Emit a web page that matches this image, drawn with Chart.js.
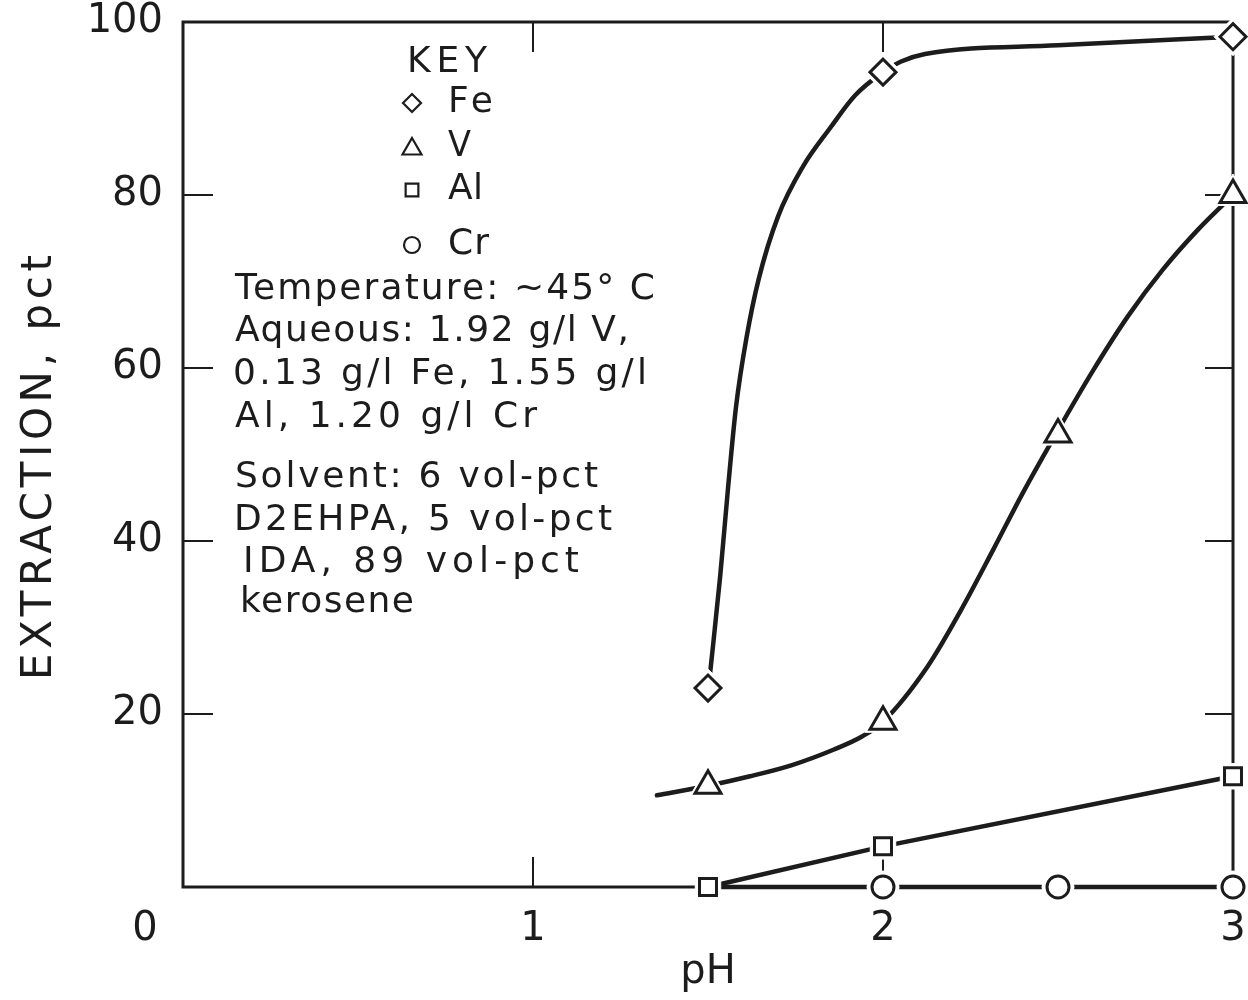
<!DOCTYPE html>
<html>
<head>
<meta charset="utf-8">
<script src="https://cdn.jsdelivr.net/npm/chart.js@4/dist/chart.umd.min.js"></script>
<style>
  html, body { margin: 0; padding: 0; background: #ffffff; }
  canvas { display: block; }
</style>
</head>
<body>
<canvas id="c" width="1248" height="1000"></canvas>
<script>
// ---- measured points (pH, extraction pct) ----
const phFe = [1.5, 2.0, 3.0];
const extFe = [23, 94.2, 98.3];
const phV = [1.5, 2.0, 2.5, 3.0];
const extV = [11.7, 19.1, 52.3, 80.0];
const phAl = [1.5, 2.0, 3.0];
const extAl = [0, 4.7, 12.8];
const phCr = [2.0, 2.5, 3.0];
const extCr = [0, 0, 0];

// ---- drawn curves ----
const phCurveFe = [1.506, 1.535, 1.557, 1.58, 1.61, 1.645, 1.70, 1.77, 1.85, 1.92, 2.0, 2.05, 2.12, 2.5, 3.0];
const extCurveFe = [24.7, 36.0, 46.0, 55.5, 63.5, 70.3, 77.5, 83.2, 87.8, 91.5, 94.2, 95.4, 96.3, 97.3, 98.3];
const phCurveV = [1.354, 1.5, 1.62, 1.74, 1.86, 1.94, 2.0, 2.126, 2.22, 2.315, 2.4, 2.5, 2.6, 2.7, 2.8, 2.9, 3.0];
const extCurveV = [10.6, 11.7, 12.8, 14.1, 15.9, 17.4, 19.1, 25.4, 31.8, 39.0, 45.6, 52.8, 59.7, 66.0, 71.4, 76.0, 80.0];
const phCurveAl = [1.5, 2.0, 3.0];
const extCurveAl = [0, 4.7, 12.8];
const phCurveCr = [1.5, 2.0, 2.5, 3.0];
const extCurveCr = [0, 0, 0, 0];

// ---- axes ----
const xTicks = [0, 1, 2, 3];
const yTicks = [0, 20, 40, 60, 80, 100];
const xTitle = 'pH';
const yTitle = 'EXTRACTION, pct';

// ---- key and notes ----
const keyTitle = 'KEY';
const keyNames = ['Fe', 'V', 'Al', 'Cr'];
const keyStyles = ['rectRot', 'triangle', 'rect', 'circle'];
const noteLines = [
  'Temperature: ~45° C',
  'Aqueous: 1.92 g/l V,',
  '0.13 g/l Fe, 1.55 g/l',
  'Al, 1.20 g/l Cr',
  'Solvent: 6 vol-pct',
  'D2EHPA, 5 vol-pct',
  'IDA, 89 vol-pct',
  'kerosene'
];

const FONT = "'DejaVu Sans', 'Liberation Sans', sans-serif";
const INK = '#1c1c1c';

const pts = (xs, ys) => xs.map((v, i) => ({ x: v, y: ys[i] }));

function markerSet(label, xs, ys, style, r) {
  return { label, data: pts(xs, ys), showLine: false, pointStyle: style, pointRadius: r,
    pointBackgroundColor: '#ffffff', pointBorderColor: INK, pointBorderWidth: 3, clip: false };
}
function haloSet(label, xs, ys, style, r) {
  return { label, data: pts(xs, ys), showLine: false, pointStyle: style, pointRadius: r,
    pointBackgroundColor: '#ffffff', pointBorderColor: '#ffffff', pointBorderWidth: 1, clip: false };
}
function curveSet(label, xs, ys, smooth) {
  return { label, data: pts(xs, ys), showLine: true, pointRadius: 0, borderColor: INK,
    borderWidth: 4.5, tension: 0, cubicInterpolationMode: smooth ? 'monotone' : 'default',
    borderCapStyle: 'round', clip: false };
}

// draw text stretched (via letter spacing) to a target width
function spacedText(ctx, text, x, y, width) {
  ctx.letterSpacing = '0px';
  const w = ctx.measureText(text).width;
  const n = Math.max(text.length - 1, 1);
  const s = (width - w) / n;
  if (s >= 0) {
    ctx.letterSpacing = s.toFixed(2) + 'px';
    ctx.fillText(text, x, y);
  } else {
    ctx.fillText(text, x, y, width);
  }
  ctx.letterSpacing = '0px';
}

const frame = {
  id: 'frame',
  beforeDatasetsDraw(chart) {
    const { ctx, chartArea: a, scales: { x, y } } = chart;
    ctx.save();
    ctx.strokeStyle = INK;
    ctx.lineWidth = 3;
    ctx.strokeRect(a.left, a.top, a.right - a.left, a.bottom - a.top);
    ctx.lineWidth = 2;
    ctx.beginPath();
    xTicks.forEach(v => {
      const px = x.getPixelForValue(v);
      if (px > a.left + 2 && px < a.right - 2) {
        ctx.moveTo(px, a.top); ctx.lineTo(px, a.top + 30);
        ctx.moveTo(px, a.bottom); ctx.lineTo(px, a.bottom - 30);
      }
    });
    yTicks.forEach(v => {
      const py = y.getPixelForValue(v);
      if (py > a.top + 2 && py < a.bottom - 2) {
        ctx.moveTo(a.left, py); ctx.lineTo(a.left + 30, py);
        ctx.moveTo(a.right, py); ctx.lineTo(a.right - 28, py);
      }
    });
    ctx.stroke();
    ctx.restore();
  },
  afterDraw(chart) {
    const { ctx, chartArea: a } = chart;
    ctx.save();
    ctx.fillStyle = INK;
    ctx.strokeStyle = INK;
    // corner zero
    ctx.font = '40px ' + FONT;
    ctx.textAlign = 'center'; ctx.textBaseline = 'middle';
    ctx.fillText('0', 145, 930);
    // axis titles
    ctx.fillText(xTitle, (a.left + a.right) / 2, 973);
    ctx.save();
    ctx.translate(40, 468);
    ctx.rotate(-Math.PI / 2);
    ctx.font = '42px ' + FONT;
    ctx.textAlign = 'left';
    spacedText(ctx, yTitle, -212, 0, 425);
    ctx.restore();
    // key
    ctx.font = '36px ' + FONT;
    ctx.textAlign = 'left';
    spacedText(ctx, keyTitle, 407, 63, 80);
    const keyY = [103, 147, 190, 245];
    const keyR = [9, 11, 9, 8];
    const keyW = [45, 23, 35, 41];
    keyNames.forEach((n, i) => {
      ctx.fillStyle = INK;
      spacedText(ctx, n, 448, keyY[i], keyW[i]);
      ctx.fillStyle = '#ffffff';
      ctx.strokeStyle = INK;
      ctx.lineWidth = 2.2;
      Chart.helpers.drawPoint(ctx, { pointStyle: keyStyles[i], radius: keyR[i], borderWidth: 2.2 }, 412, keyY[i] + (keyStyles[i] === 'triangle' ? 2 : 0));
    });
    ctx.fillStyle = INK;
    // notes
    const noteX = [235, 235, 233, 235, 235, 234, 243, 240];
    const noteY = [290, 332, 375, 418, 478, 521, 563, 603];
    const noteW = [420, 394, 414, 302, 363, 378, 336, 174];
    noteLines.forEach((t, i) => {
      spacedText(ctx, t, noteX[i], noteY[i], noteW[i]);
    });
    ctx.restore();
  }
};

new Chart(document.getElementById('c'), {
  type: 'scatter',
  data: {
    datasets: [
      markerSet('Fe', phFe, extFe, 'rectRot', 13),
      markerSet('V', phV, extV, 'triangle', 15),
      markerSet('Al', phAl, extAl, 'rect', 12),
      markerSet('Cr', phCr, extCr, 'circle', 11),
      haloSet('Fe halo', phFe, extFe, 'rectRot', 19),
      haloSet('V halo', phV, extV, 'triangle', 21),
      haloSet('Al halo', phAl, extAl, 'rect', 18),
      haloSet('Cr halo', phCr, extCr, 'circle', 16),
      curveSet('Fe curve', phCurveFe, extCurveFe, true),
      curveSet('V curve', phCurveV, extCurveV, true),
      curveSet('Al curve', phCurveAl, extCurveAl, false),
      curveSet('Cr curve', phCurveCr, extCurveCr, false)
    ]
  },
  options: {
    responsive: false,
    animation: false,
    layout: { autoPadding: false, padding: { left: 0, top: 22, right: 15, bottom: 0 } },
    plugins: { legend: { display: false }, tooltip: { enabled: false } },
    scales: {
      x: {
        type: 'linear', min: 0, max: 3,
        afterBuildTicks(s) { s.ticks = xTicks.map(v => ({ value: v })); },
        afterFit(s) { s.height = 113; s.paddingLeft = 0; s.paddingRight = 0; },
        grid: { display: false, drawTicks: false },
        border: { display: false },
        ticks: { padding: 0, color: INK, font: { family: FONT, size: 40, lineHeight: '86px' },
          maxRotation: 0, autoSkip: false,
          callback: v => (v === 0 ? '' : String(v)) }
      },
      y: {
        type: 'linear', min: 0, max: 100,
        afterBuildTicks(s) { s.ticks = yTicks.map(v => ({ value: v })); },
        afterFit(s) { s.width = 183; s.paddingTop = 0; s.paddingBottom = 0; },
        grid: { display: false, drawTicks: false },
        border: { display: false },
        ticks: { padding: 20, color: INK, font: { family: FONT, size: 40, lineHeight: '2px' },
          callback: v => (v === 0 ? '' : String(v)) }
      }
    }
  },
  plugins: [frame]
});
</script>
</body>
</html>
